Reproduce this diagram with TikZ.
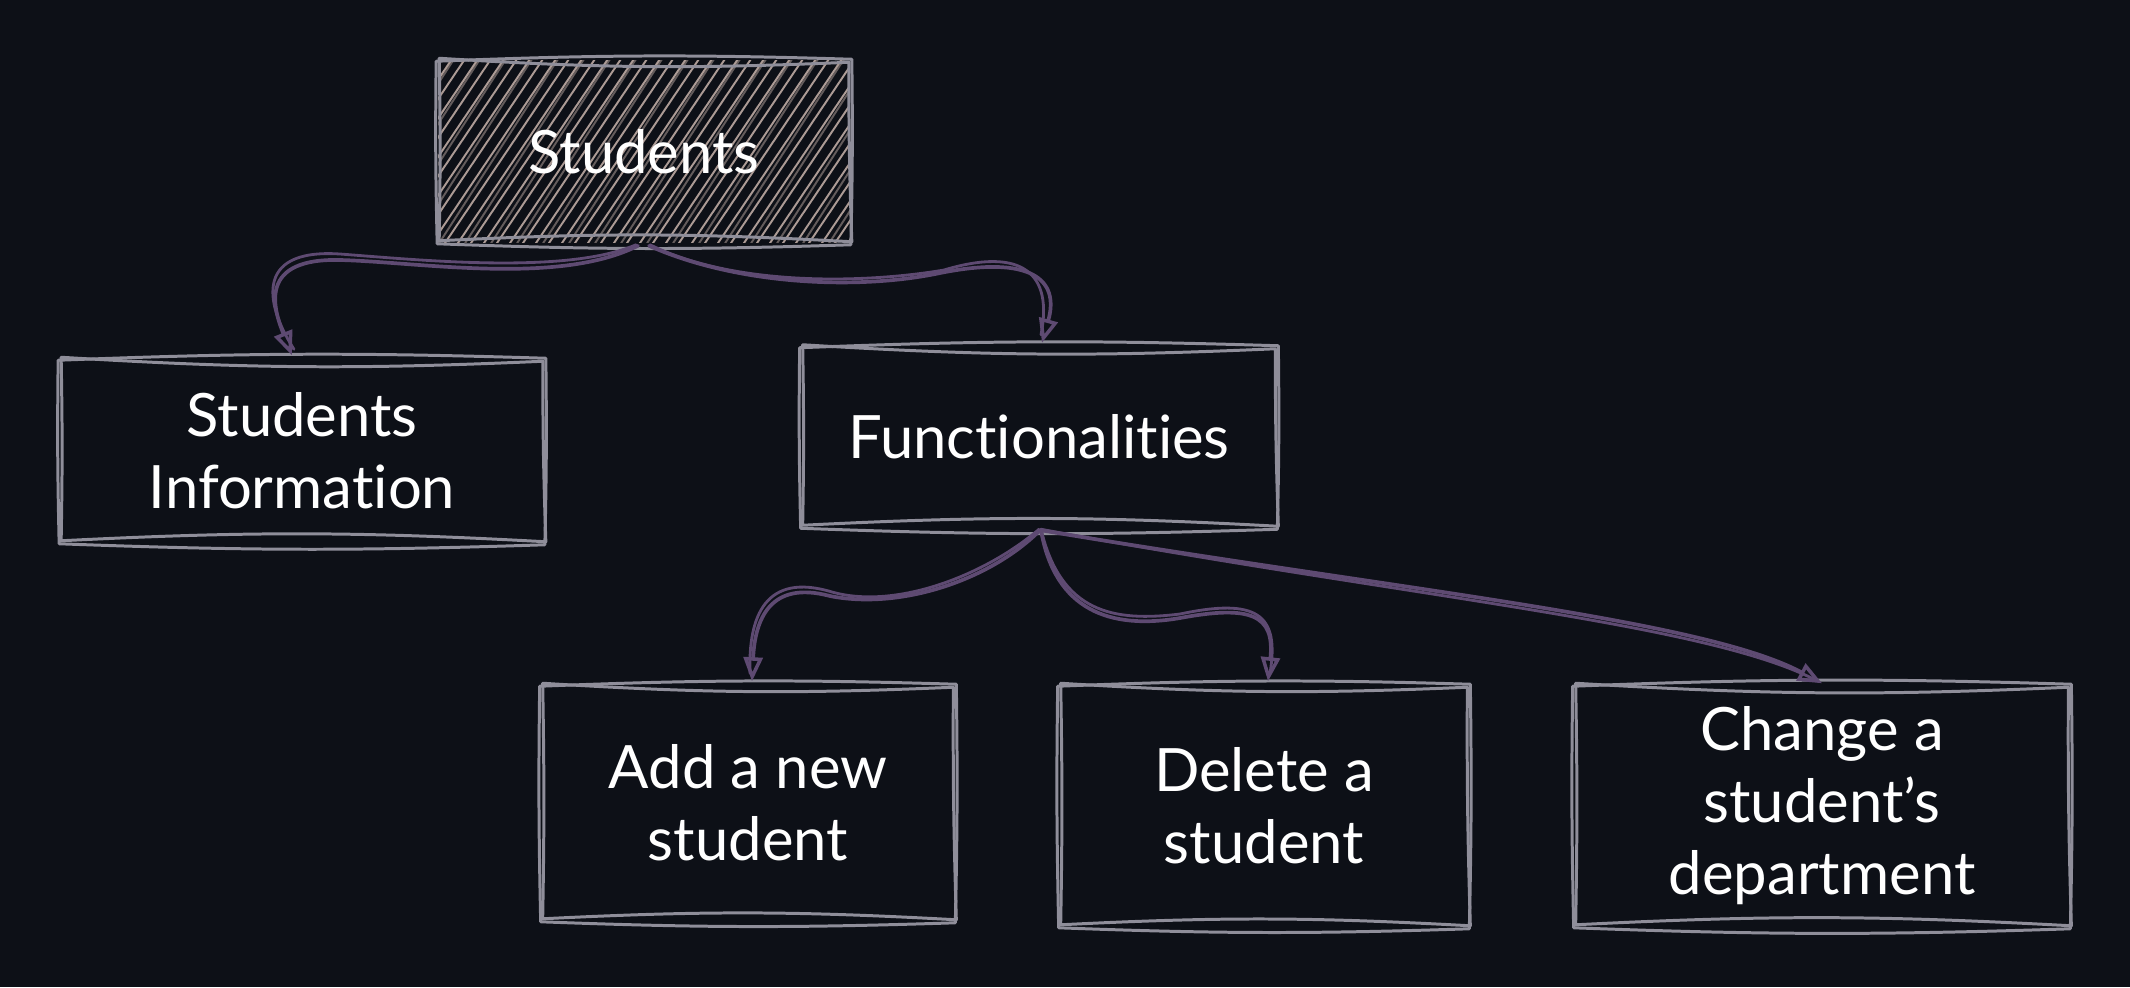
\documentclass[tikz,border=0pt]{standalone}
\usepackage{fontspec}
\setmainfont{Lato}[Ligatures={NoCommon,NoRare,NoContextual}]
\usetikzlibrary{calc,arrows.meta}

\definecolor{bg}{HTML}{0D1017}
\definecolor{edgec}{HTML}{8F8E9A}
\definecolor{linkc}{HTML}{5E4A72}
\definecolor{hatchc}{HTML}{AC9B95}

% hand-drawn outline: two slightly offset, slightly bowed passes
\newcommand\sketchbox[1]{%
  \draw[sk] ($(#1.north west)+(-2,1)$) to[bend left=2] ($(#1.north east)+(2,-1)$)
            to[bend left=1] ($(#1.south east)+(1,2)$)
            to[bend left=2] ($(#1.south west)+(-1,1)$)
            to[bend left=1] ($(#1.north west)+(-2,1)$);
  \draw[sk] ($(#1.north west)+(1,-2)$) to[bend right=3] ($(#1.north east)+(-1,2)$)
            to[bend right=1] ($(#1.south east)+(2,-1)$)
            to[bend right=3] ($(#1.south west)+(1,-2)$)
            to[bend right=1] ($(#1.north west)+(1,-2)$);
}

\begin{document}
\begin{tikzpicture}[x=0.01cm,y=-0.01cm,
  sk/.style={draw=edgec,line width=0.85pt,line cap=round,line join=round},
  box/.style={inner sep=0pt,text=white,align=center,
              font=\fontsize{17}{20.5}\selectfont},
  link/.style={draw=linkc,line width=1.05pt,line cap=round,
               -{Triangle[open,length=0.24cm,width=0.19cm,line width=1pt]}},
  echo/.style={draw=linkc,line width=0.8pt,line cap=round},
  hatch/.style={draw=hatchc,line width=0.55pt,line cap=round}]

% canvas
\fill[bg] (0,0) rectangle (2130,987);
\useasboundingbox (0,0) rectangle (2130,987);

% nodes
\node[box,minimum width=4.10cm,minimum height=1.81cm] (stu) at (644,151.5) {};
\node[box,minimum width=4.82cm,minimum height=1.82cm] (si)  at (302,451) {Students\\Information};
\node[box,minimum width=4.73cm,minimum height=1.79cm] (fun) at (1039,437) {Functionalities};
\node[box,minimum width=4.11cm,minimum height=2.34cm] (add) at (748,803) {Add a new\\student};
\node[box,minimum width=4.07cm,minimum height=2.40cm] (del) at (1264,806) {Delete a\\student};
\node[box,minimum width=4.93cm,minimum height=2.40cm] (chg) at (1822,806) {Change a\\student’s\\department};

% hatched fill of the root box
\begin{scope}
  \clip (stu.north west) rectangle (stu.south east);
  \foreach \x in {300,313,...,860} {
    \draw[hatch] (\x,246) -- ++(128,-190);
  }
  \foreach \x in {306,332,...,860} {
    \draw[hatch,opacity=0.55] (\x,248) -- ++(124,-192);
  }
\end{scope}
\node[box] (stulabel) at (stu.center) {Students};

\sketchbox{stu}
\sketchbox{si}
\sketchbox{fun}
\sketchbox{add}
\sketchbox{del}
\sketchbox{chg}

% connectors
\coordinate (m1) at (340,260);
\coordinate (m2) at (940,273);
\coordinate (m3) at (830,596);
\coordinate (m4) at (1180,618);

\draw[link] ($(stu.south)+(-6,3)$) .. controls +(-80,40) and +(80,2) .. (m1)
            .. controls +(-80,-2) and +(-20,-50) .. ($(si.north)+(-10,-4)$);
\draw[echo] ($(stu.south)+(-8,2)$) .. controls +(-70,30) and +(80,6) .. ($(m1)+(0,-6)$)
            .. controls +(-90,-6) and +(-26,-40) .. ($(si.north)+(-8,-10)$);
\draw[link] ($(stu.south)+(5,3)$) .. controls +(90,40) and +(-80,17) .. (m2)
            .. controls +(90,-18) and +(18,-64) .. ($(fun.north)+(3,-4)$);
\draw[echo] ($(stu.south)+(6,2)$) .. controls +(90,44) and +(-70,12) .. ($(m2)+(4,-3)$)
            .. controls +(80,-24) and +(12,-60) .. ($(fun.north)+(2,-12)$);
\draw[link] ($(fun.south)+(1,3)$) .. controls +(-50,50) and +(70,14) .. (m3)
            .. controls +(-60,-16) and +(3,-62) .. ($(add.north)+(4,-4)$);
\draw[echo] ($(fun.south)+(0,2)$) .. controls +(-54,46) and +(64,18) .. ($(m3)+(2,-4)$)
            .. controls +(-66,-20) and +(-2,-58) .. ($(add.north)+(2,-12)$);
\draw[link] ($(fun.south)+(2,3)$) .. controls +(14,80) and +(-70,12) .. (m4)
            .. controls +(70,-13) and +(7,-67) .. ($(del.north)+(4,-4)$);
\draw[echo] ($(fun.south)+(2,2)$) .. controls +(20,84) and +(-66,8) .. ($(m4)+(0,-4)$)
            .. controls +(76,-16) and +(10,-60) .. ($(del.north)+(6,-12)$);
\draw[link] ($(fun.south)+(2,3)$) .. controls +(360,60) and +(-120,-64) .. ($(chg.north)+(0,-2)$);
\draw[echo] ($(fun.south)+(2,2)$) .. controls +(380,70) and +(-110,-58) .. ($(chg.north)+(-4,-4)$);
\end{tikzpicture}
\end{document}
